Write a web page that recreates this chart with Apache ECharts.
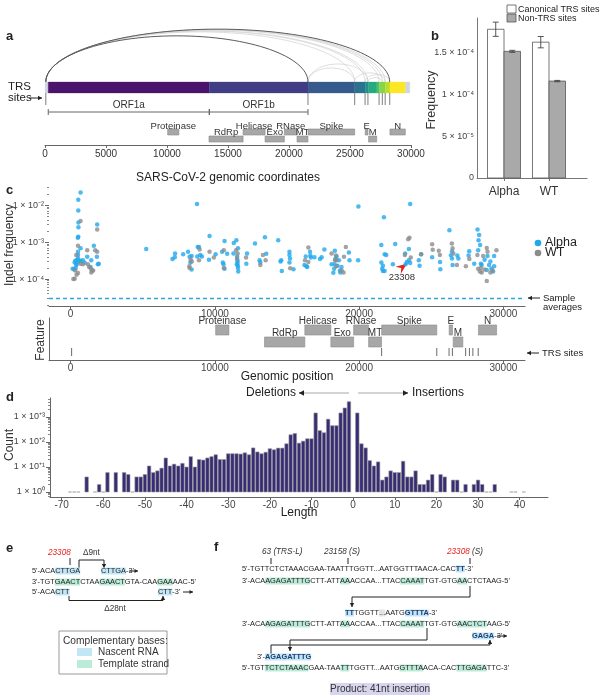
<!DOCTYPE html>
<html><head><meta charset="utf-8">
<script src="https://cdn.jsdelivr.net/npm/echarts@6/dist/echarts.min.js"></script>
<style>html,body{margin:0;padding:0;background:#fff}#c{width:601px;height:700px}</style>
</head><body><div id="c"></div>
<script>
// ---------------- DATA ----------------
// Panel a / c : genome annotation
const genomeTicks = [0, 5000, 10000, 15000, 20000, 25000, 30000];
const genomeSegStart = [0, 266, 13468, 21563, 25393, 26245, 26523, 27202, 27394, 27894, 28274, 29558];
const genomeSegEnd   = [266, 13468, 21563, 25393, 26245, 26523, 27202, 27394, 27894, 28274, 29558, 29903];
const orfNames = ['ORF1a', 'ORF1b'];
const orfStart = [266, 13468];
const orfEnd   = [13468, 21555];
const featureNames = ['Proteinase', 'RdRp', 'Helicase', 'Exo', 'RNase', 'MT', 'Spike', 'E', 'M', 'N'];
const featureStart = [10055, 13442, 16237, 18040, 19621, 20659, 21563, 26245, 26523, 28274];
const featureEnd   = [10972, 16236, 18039, 19620, 20658, 21552, 25384, 26472, 27191, 29533];
const featureRow   = [0, 1, 0, 1, 0, 1, 0, 0, 1, 0];
const trsSites = [65, 21555, 25381, 26236, 26468, 27384, 27650, 27885, 28256];
const arcFrom  = [65, 65, 65, 65, 65, 65, 21555, 21555, 25381, 26236, 26468, 65, 65];
const arcTo    = [25381, 26236, 26468, 27384, 27650, 27885, 25381, 26468, 27885, 28256, 27650, 21555, 28256];
const arcMajor = [0, 0, 0, 0, 0, 0, 0, 0, 0, 0, 0, 1, 1];

// Panel b
const bCategories = ['Alpha', 'WT'];
const canonicalMean = [1.785e-4, 1.630e-4];
const canonicalErr  = [0.085e-4, 0.068e-4];
const nonTrsMean = [1.52e-4, 1.163e-4];
const nonTrsErr  = [0.012e-4, 0.008e-4];
const bTicks = [0, 5e-5, 1e-4, 1.5e-4];
const bTickLabels = ['0', '5 × 10⁻⁵', '1 × 10⁻⁴', '1.5 × 10⁻⁴'];

// Panel c : [genomic position, indel frequency]
const alphaPoints = [[690,2.2e-2],[530,1.4e-2],[530,7.2e-3],[540,3.4e-3],[540,2.5e-3],[530,1.4e-3],[500,1.3e-3],[690,6.8e-4],[510,5.5e-4],[510,4.5e-4],[510,3.6e-4],[320,3.1e-4],[280,2.8e-4],[140,1.9e-4],[390,2.4e-4],[690,3.1e-4],[850,3.2e-4],[970,2.75e-4],[1150,4.0e-4],[1430,3.2e-4],[1380,2.1e-4],[1610,7.9e-4],[1840,3.0e-3],[1820,4.0e-4],[1890,2.5e-4],[1950,2.6e-4],[430,2.6e-4],[350,2.0e-4],[600,3.0e-4],[250,1.8e-4],[460,3.3e-4],
[5240,6.5e-4],[7060,3.5e-4],[7240,4.9e-4],[7220,3.9e-4],[7800,4.7e-4],[8140,5.5e-4],[8250,4.0e-4],[8390,4.2e-4],[8390,1.8e-4],[8300,2.8e-4],
[8760,1.07e-2],[9630,1.45e-3],[8810,7.4e-4],[8900,7.4e-4],[8990,4.5e-4],[9100,4.1e-4],[8780,4.1e-4],[9590,3.3e-4],[10050,4.7e-4],[10500,5.5e-4],[10670,1.07e-3],[10550,2.8e-4],[10600,2.5e-4],[10670,1.9e-4],[10850,4.8e-4],[11310,9.5e-4],[11490,1.12e-3],[11600,6.8e-4],[11290,4.9e-4],[11540,4.1e-4],[11560,3.2e-4],[11580,2.8e-4],[11520,2.5e-4],[11590,2.3e-4],[11600,2.0e-4],[11620,1.6e-4],[12230,4.9e-4],[12180,2.6e-4],[12780,9.1e-4],[13470,1.35e-3],[13560,4.8e-4],[13100,3.2e-4],[13150,2.8e-4],[14390,1.12e-3],[14600,3.2e-4],[14640,1.66e-4],[14550,3.0e-4],[15170,5.5e-4],[15170,4.5e-4],[15210,3.6e-4],[15170,2.8e-4],[15450,1.85e-4],[16210,2.4e-4],[16300,4.1e-4],[16350,2.2e-4],[16400,2.1e-4],[16600,5.5e-4],[16620,4.3e-4],[16650,3.8e-4],[16900,3.9e-4],[17290,3.5e-4],[17400,3.9e-4],[17590,6.3e-4],[18090,2.5e-4],[18320,5.8e-4],[18350,3.5e-4],[18300,2.5e-4],[18270,1.9e-4],[18210,1.48e-4],
[19950,9.1e-3],[21720,4.7e-3],[23540,1.07e-2],[18440,4.1e-4],[18600,3.2e-4],[18780,2.1e-4],[18670,1.7e-4],[18700,1.5e-4],[18500,2.3e-4],[19290,5.2e-4],[19330,3.2e-4],[19930,3.2e-4],[21540,8.3e-4],[21770,4.7e-4],[21880,4.5e-4],[21540,2.8e-4],[21650,2.3e-4],[21600,1.9e-4],[21650,1.65e-4],[21770,1.65e-4],[22340,2.5e-4],[22500,8.9e-4],[23190,4.9e-4],[23450,6.5e-4],[23450,3.2e-4],[23310,2.9e-4],[23540,2.7e-4],[23220,2.5e-4],[24140,3.2e-4],[24190,2.3e-4],[24300,4.7e-4],[25060,3.9e-4],[25630,1.85e-4],[25610,2.9e-4],[26260,2.1e-3],[26370,4.4e-4],[26440,3.6e-4],[26480,2.4e-4],[26440,5.6e-4],[26810,4.3e-4],[26880,3.6e-4],[27590,4.3e-4],[27630,5.6e-4],
[28210,2.2e-3],[28320,1.55e-3],[28280,1.12e-3],[28390,8.3e-4],[28250,6.0e-4],[27980,2.6e-4],[28440,2.6e-4],[28900,4.2e-4],[29010,2.4e-4],[29170,1.9e-4],[29360,4.2e-4],[29360,2.2e-4],[29290,1.6e-4],[28850,1.75e-4],[29100,3.0e-4],[28500,2.4e-4],[28700,3.3e-4]];
const wtPoints = [[690,3.7e-3],[510,7.9e-4],[390,4.5e-4],[690,2.6e-4],[320,1.7e-4],[190,1.0e-4],[280,1.02e-4],[410,1.3e-4],[510,1.45e-4],[850,2.5e-4],[1150,6.0e-4],[1190,2.5e-4],[1280,2.1e-4],[1430,1.5e-4],[1560,1.7e-4],[1840,2.2e-3],[1700,6.0e-4],[1840,5.5e-4],[1500,1.7e-4],[1400,1.9e-4],[8230,2.2e-4],[8250,2.0e-4],
[8940,6.3e-4],[8900,3.2e-4],[8400,3.0e-4],[8320,3.4e-4],[9630,5.5e-4],[9930,3.8e-4],[10620,6.0e-4],[10620,2.0e-4],[11470,6.0e-4],[11580,4.9e-4],[11540,3.6e-4],[12160,3.8e-4],[13150,2.4e-4],[13330,4.5e-4],[13520,3.2e-4],[15220,1.95e-4],[16250,3.2e-4],[16480,7.1e-4],[16480,2.9e-4],[18090,4.9e-4],[18390,4.3e-4],[18420,3.2e-4],[18420,2.2e-4],
[19080,7.4e-4],[18950,4.0e-4],[18920,1.5e-4],[18790,1.7e-4],[18330,3.2e-4],[23490,1.3e-3],[23400,1.2e-3],[23170,4.5e-4],[23580,3.8e-4],[24300,4.7e-4],[25060,8.7e-4],[25100,6.2e-4],[25520,5.8e-4],[25600,4.5e-4],[26430,9.1e-4],[26480,6.8e-4],[26530,4.9e-4],[26780,2.4e-4],[27400,2.2e-4],[27640,3.5e-4],[28200,4.5e-4],[28250,1.9e-4],[28370,1.6e-4],
[28850,8.9e-5],[28440,2.0e-4],[28500,1.5e-4],[28700,1.8e-4],[28900,5.5e-4],[29100,1.5e-4],[29520,6.0e-4],[28850,6.9e-4],[28600,4.2e-4],[29240,1.7e-4]];
const sampleAverageAlpha = 3.1e-5;
const highlightSite = [23308, 2.6e-4];
const cXTicks = [0, 10000, 20000, 30000];
const cYTicks = [-4, -3, -2];
const cYTickLabels = ['1 × 10⁻⁴', '1 × 10⁻³', '1 × 10⁻²'];

// Panel d : indel length histogram
const indelLength = [-68,-67,-66,-64,-62,-61,-60,-59,-57,-55,-54,-53,-52,-51,-50,-49,-48,-47,-46,-45,-44,-43,-42,-41,-40,-39,-38,-37,-36,-35,-34,-33,-32,-31,-30,-29,-28,-27,-26,-25,-24,-23,-22,-21,-20,-19,-18,-17,-16,-15,-14,-13,-12,-11,-10,-9,-8,-7,-6,-5,-4,-3,-2,-1,1,2,3,4,5,6,7,8,9,10,11,12,13,14,15,16,17,18,19,20,21,22,24,25,26,27,29,30,31,32,33,34,38,39,41];
const indelCount  = [1,1,1,4,1,2,1,6,6,6,5,1,4,4,5,11,6,7,9,23,11,13,11,14,10,26,10,20,19,23,26,31,20,20,34,34,34,33,37,31,58,40,34,39,54,49,57,57,85,195,220,90,108,135,135,1450,285,235,820,450,450,1450,2300,4100,1450,85,58,18,11,16,3,4,7,6,6,17,4,4,7,2,2,3,5,1,5,4,3,3,1,2,2,3,2,1,1,2,1,1,1];
const dXTicks = [-70,-60,-50,-40,-30,-20,-10,0,10,20,30,40];
const dYTicks = [0, 1, 2, 3];
const dYTickLabels = ['1 × 10⁰', '1 × 10⁺¹', '1 × 10⁺²', '1 × 10⁺³'];

// ---------------- STYLE ----------------
const FF = "'Liberation Sans', Arial, Helvetica, sans-serif";
const segColors = ['#cfd5e2','#4a146c','#413d84','#375a8c','#2c718e','#21908c','#27a983','#48c06d','#86d549','#bade28','#fde725','#cfd5e2'];
const ALPHA = '#1fa8ec', WTC = '#8c8c8c';
const plain = v => String(Math.round(v));

function minorTicks(lo, hi) {
  const out = [];
  for (let d = Math.floor(lo) - 1; d <= Math.ceil(hi); d++)
    for (let k = 2; k <= 9; k++) { const v = d + Math.log10(k); if (v > lo && v < hi) out.push(v); }
  return out;
}

function arrowEls(pts, color, lw, head) {
  const n = pts.length, [x1, y1] = pts[n - 2], [x2, y2] = pts[n - 1];
  const ang = Math.atan2(y2 - y1, x2 - x1), L = head || 4, W = L * 0.55;
  const bx = x2 - L * Math.cos(ang), by = y2 - L * Math.sin(ang);
  const px = -Math.sin(ang) * W, py = Math.cos(ang) * W;
  return [
    {type: 'polyline', silent: true, shape: {points: pts}, style: {stroke: color, lineWidth: lw, fill: null}},
    {type: 'polygon', silent: true, shape: {points: [[x2, y2], [bx + px, by + py], [bx - px, by - py]]}, style: {fill: color}}
  ];
}

// ---------------- RENDERERS ----------------
function featureRender(L) {
  return function (params, api) {
    const s = api.value(0), e = api.value(1), row = api.value(2), idx = api.value(3);
    const yb = row === 0 ? L.top : L.bot;
    const p0 = api.coord([s, yb[0]]), p1 = api.coord([e, yb[1]]);
    const lab = api.coord([(s + e) / 2, row === 0 ? L.labTop : L.labBot]);
    return {type: 'group', children: [
      {type: 'rect', shape: {x: p0[0], y: p0[1], width: p1[0] - p0[0], height: p1[1] - p0[1]},
       style: {fill: '#a7a7a7', stroke: '#8a8a8a', lineWidth: 0.6}},
      {type: 'text', x: lab[0], y: lab[1], style: {text: featureNames[idx], fontSize: L.fs, fontFamily: FF,
       fill: '#333', align: 'center', verticalAlign: 'middle'}}
    ]};
  };
}
function tickRender(y0, y1, color) {
  return function (params, api) {
    const a = api.coord([api.value(0), y0]), b = api.coord([api.value(0), y1]);
    return {type: 'line', shape: {x1: a[0], y1: a[1], x2: b[0], y2: b[1]}, style: {stroke: color, lineWidth: 1.1}};
  };
}

const featureData = featureNames.map((n, i) => [featureStart[i], featureEnd[i], featureRow[i], i]);

const series = [];
// ---- panel a ----
series.push({type: 'custom', xAxisIndex: 0, yAxisIndex: 0, silent: true,
  data: arcFrom.map((f, i) => [f, arcTo[i], arcMajor[i]]).sort((p, q) => p[2] - q[2]),
  renderItem: function (params, api) {
    const a = api.coord([api.value(0), 57]), b = api.coord([api.value(1), 57]);
    const span = b[0] - a[0];
    const h = span > 150 ? 2.85 * Math.sqrt(span) : 0.3 * span;
    const rx = span / 2, cx = a[0] + rx, y0 = a[1], k = 0.5523;
    const d = `M${a[0]} ${y0} C${a[0]} ${y0 - k * h} ${cx - k * rx} ${y0 - h} ${cx} ${y0 - h} C${cx + k * rx} ${y0 - h} ${b[0]} ${y0 - k * h} ${b[0]} ${y0}`;
    const major = api.value(2) === 1;
    return {type: 'path', shape: {pathData: d}, style: {fill: null, stroke: major ? '#5a5a5a' : '#d6d6d6', lineWidth: major ? 1 : 0.8}};
  }});
series.push({type: 'custom', xAxisIndex: 0, yAxisIndex: 0, silent: true,
  data: genomeSegStart.map((s, i) => [s, genomeSegEnd[i], i]),
  renderItem: function (params, api) {
    const p0 = api.coord([api.value(0), 57]), p1 = api.coord([api.value(1), 68]);
    return {type: 'rect', shape: {x: p0[0], y: p0[1], width: p1[0] - p0[0], height: p1[1] - p0[1]},
      style: {fill: segColors[api.value(2)], stroke: segColors[api.value(2)], lineWidth: 0.3}};
  }});
series.push({type: 'custom', xAxisIndex: 0, yAxisIndex: 0, silent: true,
  data: trsSites.map(s => [s, 0]), renderItem: tickRender(68, 80, '#8a8a8a')});
series.push({type: 'custom', xAxisIndex: 0, yAxisIndex: 0, silent: true,
  data: orfStart.map((s, i) => [s, orfEnd[i], i]),
  renderItem: function (params, api) {
    const s = api.value(0), e = api.value(1);
    const a = api.coord([s, 87]), b = api.coord([e, 87]), m = api.coord([(s + e) / 2, 80]);
    return {type: 'group', children: [
      {type: 'line', shape: {x1: a[0], y1: a[1], x2: b[0], y2: b[1]}, style: {stroke: '#666', lineWidth: 1}},
      {type: 'line', shape: {x1: a[0], y1: a[1] - 3, x2: a[0], y2: a[1] + 3}, style: {stroke: '#666', lineWidth: 1}},
      {type: 'line', shape: {x1: b[0], y1: b[1] - 3, x2: b[0], y2: b[1] + 3}, style: {stroke: '#666', lineWidth: 1}},
      {type: 'text', x: m[0], y: m[1], style: {text: orfNames[api.value(2)], fontSize: 10, fontFamily: FF, fill: '#333', align: 'center', verticalAlign: 'middle'}}
    ]};
  }});
series.push({type: 'custom', xAxisIndex: 0, yAxisIndex: 0, silent: true, data: featureData,
  renderItem: featureRender({top: [104, 110], bot: [111, 117], labTop: 101, labBot: 107, fs: 9.5})});

// ---- panel b ----
const bData = [];
bCategories.forEach((c, i) => { bData.push([i + 1, canonicalMean[i], canonicalErr[i], 0]); bData.push([i + 1, nonTrsMean[i], nonTrsErr[i], 1]); });
series.push({type: 'custom', xAxisIndex: 1, yAxisIndex: 1, silent: true, data: bData,
  renderItem: function (params, api) {
    const x = api.value(0), m = api.value(1), err = api.value(2), kind = api.value(3), w = 0.367;
    const x0 = kind === 0 ? x - w : x, x1 = kind === 0 ? x : x + w;
    const p0 = api.coord([x0, m]), p1 = api.coord([x1, 0]);
    const c = api.coord([(x0 + x1) / 2, m + err]), c2 = api.coord([(x0 + x1) / 2, m - err]);
    return {type: 'group', children: [
      {type: 'rect', shape: {x: p0[0], y: p0[1], width: p1[0] - p0[0], height: p1[1] - p0[1]},
       style: {fill: kind === 0 ? '#ffffff' : '#a9a9a9', stroke: '#555', lineWidth: 0.8}},
      {type: 'line', shape: {x1: c[0], y1: c[1], x2: c2[0], y2: c2[1]}, style: {stroke: '#444', lineWidth: 0.9}},
      {type: 'line', shape: {x1: c[0] - 3, y1: c[1], x2: c[0] + 3, y2: c[1]}, style: {stroke: '#444', lineWidth: 0.9}},
      {type: 'line', shape: {x1: c2[0] - 3, y1: c2[1], x2: c2[0] + 3, y2: c2[1]}, style: {stroke: '#444', lineWidth: 0.9}}
    ]};
  }});

// ---- panel c ----
series.push({type: 'scatter', name: 'Alpha', xAxisIndex: 2, yAxisIndex: 2, silent: true, symbolSize: 4.5,
  itemStyle: {color: ALPHA}, data: alphaPoints.map(p => [p[0], Math.log10(p[1])]),
  markLine: {silent: true, symbol: 'none', label: {show: false}, animation: false,
    lineStyle: {color: '#2aa6e0', type: [4, 3], width: 1.4}, data: [{yAxis: Math.log10(sampleAverageAlpha)}]}});
series.push({type: 'scatter', name: 'WT', xAxisIndex: 2, yAxisIndex: 2, silent: true, symbolSize: 4.5,
  itemStyle: {color: WTC}, data: wtPoints.map(p => [p[0], Math.log10(p[1])])});
series.push({type: 'custom', xAxisIndex: 2, yAxisIndex: 2, silent: true,
  data: [[highlightSite[0], Math.log10(highlightSite[1])]],
  renderItem: function (params, api) {
    const t = api.coord([api.value(0), api.value(1)]);
    const ang = Math.atan2(-6, 8), ca = Math.cos(ang), sa = Math.sin(ang);
    const loc = [[0, 0], [-11, -4.5], [-7, 0], [-11, 4.5]];
    const pts = loc.map(p => [t[0] + p[0] * ca - p[1] * sa, t[1] + p[0] * sa + p[1] * ca]);
    return {type: 'group', children: [
      {type: 'polygon', shape: {points: pts}, style: {fill: '#e8201c'}},
      {type: 'text', x: t[0] - 5, y: t[1] + 14, style: {text: String(api.value(0)), fontSize: 9.5, fontFamily: FF, fill: '#333', align: 'center', verticalAlign: 'middle'}}
    ]};
  }});
series.push({type: 'custom', xAxisIndex: 3, yAxisIndex: 3, silent: true, data: featureData,
  renderItem: featureRender({top: [7, 17], bot: [19, 29], labTop: 3, labBot: 15, fs: 10})});
series.push({type: 'custom', xAxisIndex: 3, yAxisIndex: 3, silent: true,
  data: trsSites.map(s => [s, 0]), renderItem: tickRender(30, 38, '#777')});

// ---- panel d ----
series.push({type: 'custom', xAxisIndex: 4, yAxisIndex: 4, silent: true,
  data: indelLength.map((l, i) => [l, indelCount[i]]),
  renderItem: function (params, api) {
    const l = api.value(0), n = api.value(1);
    if (n <= 1) {
      const a = api.coord([l - 0.42, 0]), b = api.coord([l + 0.42, 0]);
      return {type: 'line', shape: {x1: a[0], y1: a[1], x2: b[0], y2: b[1]}, style: {stroke: '#bdbdbd', lineWidth: 1.5}};
    }
    const p0 = api.coord([l - 0.42, Math.log10(n)]), p1 = api.coord([l + 0.42, 0]);
    return {type: 'rect', shape: {x: p0[0], y: p0[1], width: p1[0] - p0[0], height: p1[1] - p0[1]},
      style: {fill: '#382d74', stroke: '#9a9a9a', lineWidth: 0.6}};
  }});

// ---------------- AXES ----------------
const axLine = {onZero: false, lineStyle: {color: '#666', width: 1}};
const lbl = (fs, m, extra) => Object.assign({fontSize: fs, color: '#444', fontFamily: FF, margin: m}, extra || {});
const xAxis = [
  {gridIndex: 0, type: 'value', position: 'bottom', min: 0, max: 30000, interval: 5000, axisLine: axLine, splitLine: {show: false},
   axisTick: {length: 3, lineStyle: {color: '#666'}}, axisLabel: lbl(10, 4, {color: '#333', formatter: plain})},
  {gridIndex: 1, type: 'value', position: 'bottom', min: 0.4, max: 2.844, axisLine: {onZero: false, lineStyle: {color: '#777'}}, splitLine: {show: false},
   axisTick: {length: 3, customValues: [1, 2], lineStyle: {color: '#777'}},
   axisLabel: lbl(12, 8, {color: '#333', customValues: [1, 2], formatter: v => bCategories[Math.round(v) - 1]})},
  {gridIndex: 2, type: 'value', position: 'bottom', min: -1500, max: 31500, axisLine: axLine, splitLine: {show: false},
   axisTick: {length: 3, customValues: cXTicks, lineStyle: {color: '#666'}}, axisLabel: lbl(10, 3, {customValues: cXTicks, formatter: plain})},
  {gridIndex: 3, type: 'value', position: 'bottom', min: -1500, max: 31500, axisLine: axLine, splitLine: {show: false},
   axisTick: {length: 3, customValues: cXTicks, lineStyle: {color: '#666'}}, axisLabel: lbl(10, 3, {customValues: cXTicks, formatter: plain})},
  {gridIndex: 4, type: 'value', position: 'bottom', min: -72.8, max: 46.8, axisLine: axLine, splitLine: {show: false},
   axisTick: {length: 3, customValues: dXTicks, lineStyle: {color: '#666'}}, axisLabel: lbl(10, 3, {customValues: dXTicks, formatter: plain})}
];
const cMin = -4.73, cMax = -1.51, dMin = -0.2, dMax = 3.76;
const yAxis = [
  {gridIndex: 0, type: 'value', min: 0, max: 120, inverse: true, show: false},
  {gridIndex: 1, type: 'value', position: 'left', min: 0, max: 1.92e-4, axisLine: {show: true, onZero: false, lineStyle: {color: '#777'}}, splitLine: {show: false},
   axisTick: {show: false, customValues: bTicks},
   axisLabel: lbl(9, 3, {customValues: bTicks, formatter: v => bTickLabels[bTicks.findIndex(t => Math.abs(t - v) < 1e-9)]})},
  {gridIndex: 2, type: 'value', position: 'left', min: cMin, max: cMax, axisLine: {show: false, onZero: false}, splitLine: {show: false},
   axisTick: {show: true, length: 4, customValues: cYTicks, lineStyle: {color: '#666'}},
   axisLabel: lbl(9, 5, {customValues: cYTicks, formatter: v => cYTickLabels[cYTicks.indexOf(Math.round(v))]})},
  {gridIndex: 3, type: 'value', position: 'left', min: 0, max: 42, inverse: true, axisLine: {show: true, onZero: false, lineStyle: {color: '#666'}},
   axisTick: {show: false}, axisLabel: {show: false}, splitLine: {show: false}},
  {gridIndex: 4, type: 'value', position: 'left', min: dMin, max: dMax, axisLine: {show: true, onZero: false, lineStyle: {color: '#666'}}, splitLine: {show: false},
   axisTick: {show: true, length: 4, customValues: dYTicks, lineStyle: {color: '#666'}},
   axisLabel: lbl(9, 5, {customValues: dYTicks, formatter: v => dYTickLabels[Math.round(v)]})},
  {gridIndex: 2, type: 'value', position: 'left', offset: 0, min: cMin, max: cMax, axisLine: {show: false, onZero: false}, splitLine: {show: false}, axisLabel: {show: false},
   axisTick: {show: true, length: 2, customValues: minorTicks(cMin, cMax), lineStyle: {color: '#888'}}},
  {gridIndex: 4, type: 'value', position: 'left', offset: 0, min: dMin, max: dMax, axisLine: {show: false, onZero: false}, splitLine: {show: false}, axisLabel: {show: false},
   axisTick: {show: true, length: 2, customValues: minorTicks(dMin, dMax), lineStyle: {color: '#888'}}}
];
const grid = [
  {left: 45, top: 25, width: 366, height: 120},
  {left: 477, top: 18, width: 110, height: 160},
  {left: 49, top: 187, width: 476, height: 119},
  {left: 49, top: 318, width: 476, height: 42},
  {left: 50, top: 398, width: 498, height: 99}
].map(g => Object.assign(g, {containLabel: false, outerBoundsMode: 'none'}));

// ---------------- ANNOTATIONS ----------------
const T = (x, y, text, o) => ({type: 'text', x, y, silent: true, style: Object.assign({text, fontSize: 11, fontFamily: FF, fill: '#222', verticalAlign: 'middle'}, o || {})});
const TR = (x, y, text, fs) => ({type: 'text', x, y, rotation: Math.PI / 2, silent: true, style: {text, fontSize: fs, fontFamily: FF, fill: '#333', align: 'center', verticalAlign: 'middle'}});
const SEQ = 7.4, LH = 9;
const rs = o => Object.assign({fontSize: SEQ, fontFamily: FF, lineHeight: LH, fill: '#222', color: '#222'}, o);
const RICH = {
  n: rs({backgroundColor: '#c2e6f6'}),
  N: rs({backgroundColor: '#c2e6f6', fontWeight: 'bold', fill: '#1f3d70', color: '#1f3d70'}),
  t: rs({backgroundColor: '#bdebd9'}),
  g: rs({backgroundColor: '#e4e4e4'}),
  r: rs({fill: '#e8201c', color: '#e8201c', fontStyle: 'italic', fontSize: 8.2}),
  i: rs({fontStyle: 'italic', fontSize: 8.2, fill: '#333', color: '#333'})
};
const S = (x, y, text) => ({type: 'text', x, y, silent: true, style: {text, rich: RICH, fontSize: SEQ, fontFamily: FF, lineHeight: LH, fill: '#222', verticalAlign: 'middle'}});
const K = '#222';
const line = (x1, y1, x2, y2, c, w) => ({type: 'line', silent: true, shape: {x1, y1, x2, y2}, style: {stroke: c || K, lineWidth: w || 1}});

const graphic = [
  // panel letters
  T(6, 36, 'a', {fontWeight: 'bold', fontSize: 13}), T(431, 36, 'b', {fontWeight: 'bold', fontSize: 13}),
  T(6, 190, 'c', {fontWeight: 'bold', fontSize: 13}), T(6, 397, 'd', {fontWeight: 'bold', fontSize: 13}),
  T(6, 548, 'e', {fontWeight: 'bold', fontSize: 13}), T(214, 547, 'f', {fontWeight: 'bold', fontSize: 13}),
  // panel a
  T(8, 87, 'TRS', {fontSize: 11.5}), T(8, 98, 'sites', {fontSize: 11.5}),
  ...arrowEls([[29, 98], [42, 98]], K, 1, 4),
  T(228, 178, 'SARS-CoV-2 genomic coordinates', {fontSize: 12, align: 'center'}),
  // panel b legend and title
  {type: 'rect', silent: true, shape: {x: 507, y: 5, width: 9, height: 8}, style: {fill: '#fff', stroke: '#555', lineWidth: 0.8}},
  {type: 'rect', silent: true, shape: {x: 507, y: 14, width: 9, height: 8}, style: {fill: '#a9a9a9', stroke: '#555', lineWidth: 0.8}},
  T(518, 10, 'Canonical TRS sites', {fontSize: 9}), T(518, 19, 'Non-TRS sites', {fontSize: 9}),
  TR(432, 100, 'Frequency', 12.5),
  // panel c
  {type: 'circle', silent: true, shape: {cx: 538, cy: 243, r: 3.3}, style: {fill: ALPHA}},
  {type: 'circle', silent: true, shape: {cx: 538, cy: 253, r: 3.3}, style: {fill: WTC}},
  T(545, 243, 'Alpha', {fontSize: 12.5}), T(545, 253, 'WT', {fontSize: 12.5}),
  ...arrowEls([[540, 298], [528, 298]], K, 1, 4),
  T(543, 298, 'Sample', {fontSize: 9.5}), T(543, 307, 'averages', {fontSize: 9.5}),
  ...arrowEls([[539, 353], [527, 353]], K, 1, 4),
  T(542, 353, 'TRS sites', {fontSize: 9.5}),
  T(287, 377, 'Genomic position', {fontSize: 12, align: 'center'}),
  TR(10, 245, 'Indel frequency', 12), TR(41, 340, 'Feature', 12),
  // panel d
  T(296, 393, 'Deletions', {fontSize: 12, align: 'right'}),
  line(303, 393, 349, 393, '#aaa', 1.2),
  ...arrowEls([[303, 393], [299, 393]], K, 1, 5),
  line(358, 393, 404, 393, '#aaa', 1.2),
  ...arrowEls([[404, 393], [408, 393]], K, 1, 5),
  T(412, 393, 'Insertions', {fontSize: 12}),
  T(299, 513, 'Length', {fontSize: 12, align: 'center'}),
  TR(10, 445, 'Count', 12),
  // panel e
  S(48, 553, '{r|23308}'), T(83, 553, 'Δ9nt', {fontSize: 8.2, fill: '#333'}),
  line(70, 558, 70, 565),
  ...arrowEls([[79, 568], [79, 560], [104, 560], [104, 568]], K, 1, 4),
  S(32, 571, "5'-ACA{n|CTTGA}"), S(101, 571, "{n|CTTGA}-3'"),
  ...arrowEls([[129, 571], [138, 571]], K, 1, 3.5),
  S(32, 582, "3'-TGT{t|GAACT}CTAA{t|GAACT}GTA-CAA{t|GAA}AAC-5'"),
  S(32, 592, "5'-ACA{n|CTT}"), S(158, 592, "{n|CTT}-3'"),
  ...arrowEls([[183, 592], [193, 592]], K, 1, 3.5),
  ...arrowEls([[69, 596], [69, 600.5], [163, 600.5], [163, 596]], K, 1, 4),
  T(115, 609, 'Δ28nt', {fontSize: 8.2, align: 'center', fill: '#333'}),
  {type: 'rect', silent: true, shape: {x: 59, y: 631, width: 108, height: 43}, style: {fill: '#fff', stroke: '#999', lineWidth: 1}},
  T(63, 641, 'Complementary bases:', {fontSize: 10.2, fill: '#333'}),
  {type: 'rect', silent: true, shape: {x: 77, y: 648, width: 15, height: 8}, style: {fill: '#c2e6f6'}},
  {type: 'rect', silent: true, shape: {x: 77, y: 660, width: 15, height: 8}, style: {fill: '#bdebd9'}},
  T(98, 652, 'Nascent RNA', {fontSize: 10, fill: '#333'}), T(98, 664, 'Template strand', {fontSize: 10, fill: '#333'}),
  // panel f
  S(262, 552, '{i|63 (TRS-L)}'), S(324, 552, '{i|23158 (S)}'), S(447, 552, '{r|23308}{i| (S)}'),
  line(271, 558, 271, 564), line(348, 558, 348, 564), line(470, 558, 470, 564),
  S(242, 569, "5'-TGTTCTCTAAACGAA-TAATTTGGTT...AATGGTTTAACA-CAC{N|TT}-3'"),
  S(242, 581, "3'-ACA{t|AGAGATTTG}CTT-ATT{t|AA}ACCAA...TTAC{t|CAAAT}TGT-GTG{t|AA}CTCTAAG-5'"),
  ...arrowEls([[470, 586], [470, 597], [352, 597], [352, 607]], K, 1, 4),
  S(345, 613, "{N|TT}TGGTT{g|...}AATG{N|GTTTA}-3'"),
  S(242, 624, "3'-ACA{t|AGAGATTTG}CTT-ATT{t|AA}ACCAA...TTAC{t|CAAAT}TGT-GTG{t|AACTCT}AAG-5'"),
  ...arrowEls([[427, 628], [427, 640], [290, 640], [290, 651]], K, 1, 4),
  ...arrowEls([[271, 654], [271, 645], [490, 645], [490, 640]], K, 1, 4),
  S(472, 636, "{N|GAGA}-3'"),
  ...arrowEls([[497, 636], [507, 636]], K, 1, 3.5),
  S(257, 657, "3'-{N|AGAGATTTG}"),
  S(242, 668, "5'-TGT{t|TCTCTAAAC}GAA-TAA{t|TT}TGGTT...AATG{t|GTTTA}ACA-CAC{t|TTGAGA}TTC-3'"),
  {type: 'rect', silent: true, shape: {x: 330, y: 683, width: 100, height: 12}, style: {fill: '#d8d6ee'}},
  T(380, 689.5, 'Product: 41nt insertion', {fontSize: 10, align: 'center', fill: '#333'})
];

const chart = echarts.init(document.getElementById('c'), null, {renderer: 'canvas', width: 601, height: 700});
chart.setOption({
  animation: false, backgroundColor: '#fff',
  textStyle: {fontFamily: FF},
  grid, xAxis, yAxis, series, graphic
});
</script></body></html>
